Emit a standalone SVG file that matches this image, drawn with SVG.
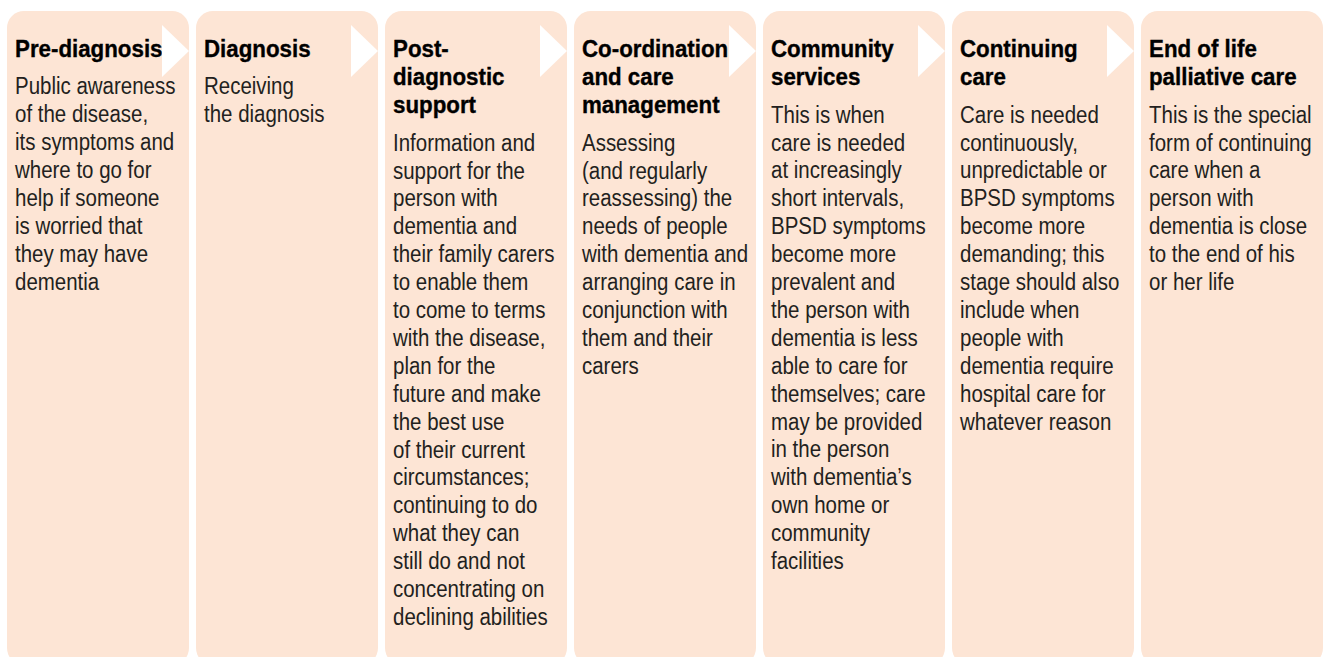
<svg xmlns="http://www.w3.org/2000/svg" width="1328" height="657" viewBox="0 0 1328 657">
<style>
.box{fill:#fde5d5}
.arrow{fill:#ffffff}
.t{font-family:"Liberation Sans",Arial,sans-serif;font-weight:bold;font-size:24px;fill:#000;stroke:#000;stroke-width:0.35}
.b{font-family:"Liberation Sans",Arial,sans-serif;font-size:23px;fill:#231f20}
</style>
<rect width="1328" height="657" fill="#ffffff"/>
<g id="stage-1">
<rect class="box" x="7" y="11" width="182" height="654" rx="17"/>
<text class="t" transform="translate(15,57.3) scale(0.93,1)"><tspan x="0" y="0">Pre-diagnosis</tspan></text>
<text class="b" transform="translate(15,94.3) scale(0.89,1)"><tspan x="0" y="0">Public awareness</tspan><tspan x="0" y="27.9">of the disease,</tspan><tspan x="0" y="55.8">its symptoms and</tspan><tspan x="0" y="83.7">where to go for</tspan><tspan x="0" y="111.6">help if someone</tspan><tspan x="0" y="139.5">is worried that</tspan><tspan x="0" y="167.4">they may have</tspan><tspan x="0" y="195.3">dementia</tspan></text>
</g>
<g id="stage-2">
<rect class="box" x="196" y="11" width="182" height="654" rx="17"/>
<text class="t" transform="translate(204,57.3) scale(0.93,1)"><tspan x="0" y="0">Diagnosis</tspan></text>
<text class="b" transform="translate(204,94.3) scale(0.89,1)"><tspan x="0" y="0">Receiving</tspan><tspan x="0" y="27.9">the diagnosis</tspan></text>
</g>
<g id="stage-3">
<rect class="box" x="385" y="11" width="182" height="654" rx="17"/>
<text class="t" transform="translate(393,57.3) scale(0.93,1)"><tspan x="0" y="0">Post-</tspan><tspan x="0" y="27.9">diagnostic</tspan><tspan x="0" y="55.8">support</tspan></text>
<text class="b" transform="translate(393,150.7) scale(0.89,1)"><tspan x="0" y="0">Information and</tspan><tspan x="0" y="27.9">support for the</tspan><tspan x="0" y="55.8">person with</tspan><tspan x="0" y="83.7">dementia and</tspan><tspan x="0" y="111.6">their family carers</tspan><tspan x="0" y="139.5">to enable them</tspan><tspan x="0" y="167.4">to come to terms</tspan><tspan x="0" y="195.3">with the disease,</tspan><tspan x="0" y="223.2">plan for the</tspan><tspan x="0" y="251.1">future and make</tspan><tspan x="0" y="279">the best use</tspan><tspan x="0" y="306.9">of their current</tspan><tspan x="0" y="334.8">circumstances;</tspan><tspan x="0" y="362.7">continuing to do</tspan><tspan x="0" y="390.6">what they can</tspan><tspan x="0" y="418.5">still do and not</tspan><tspan x="0" y="446.4">concentrating on</tspan><tspan x="0" y="474.3">declining abilities</tspan></text>
</g>
<g id="stage-4">
<rect class="box" x="574" y="11" width="182" height="654" rx="17"/>
<text class="t" transform="translate(582,57.3) scale(0.93,1)"><tspan x="0" y="0">Co-ordination</tspan><tspan x="0" y="27.9">and care</tspan><tspan x="0" y="55.8">management</tspan></text>
<text class="b" transform="translate(582,150.7) scale(0.89,1)"><tspan x="0" y="0">Assessing</tspan><tspan x="0" y="27.9">(and regularly</tspan><tspan x="0" y="55.8">reassessing) the</tspan><tspan x="0" y="83.7">needs of people</tspan><tspan x="0" y="111.6">with dementia and</tspan><tspan x="0" y="139.5">arranging care in</tspan><tspan x="0" y="167.4">conjunction with</tspan><tspan x="0" y="195.3">them and their</tspan><tspan x="0" y="223.2">carers</tspan></text>
</g>
<g id="stage-5">
<rect class="box" x="763" y="11" width="182" height="654" rx="17"/>
<text class="t" transform="translate(771,57.3) scale(0.93,1)"><tspan x="0" y="0">Community</tspan><tspan x="0" y="27.9">services</tspan></text>
<text class="b" transform="translate(771,122.7) scale(0.89,1)"><tspan x="0" y="0">This is when</tspan><tspan x="0" y="27.9">care is needed</tspan><tspan x="0" y="55.8">at increasingly</tspan><tspan x="0" y="83.7">short intervals,</tspan><tspan x="0" y="111.6">BPSD symptoms</tspan><tspan x="0" y="139.5">become more</tspan><tspan x="0" y="167.4">prevalent and</tspan><tspan x="0" y="195.3">the person with</tspan><tspan x="0" y="223.2">dementia is less</tspan><tspan x="0" y="251.1">able to care for</tspan><tspan x="0" y="279">themselves; care</tspan><tspan x="0" y="306.9">may be provided</tspan><tspan x="0" y="334.8">in the person</tspan><tspan x="0" y="362.7">with dementia’s</tspan><tspan x="0" y="390.6">own home or</tspan><tspan x="0" y="418.5">community</tspan><tspan x="0" y="446.4">facilities</tspan></text>
</g>
<g id="stage-6">
<rect class="box" x="952" y="11" width="182" height="654" rx="17"/>
<text class="t" transform="translate(960,57.3) scale(0.93,1)"><tspan x="0" y="0">Continuing</tspan><tspan x="0" y="27.9">care</tspan></text>
<text class="b" transform="translate(960,122.7) scale(0.89,1)"><tspan x="0" y="0">Care is needed</tspan><tspan x="0" y="27.9">continuously,</tspan><tspan x="0" y="55.8">unpredictable or</tspan><tspan x="0" y="83.7">BPSD symptoms</tspan><tspan x="0" y="111.6">become more</tspan><tspan x="0" y="139.5">demanding; this</tspan><tspan x="0" y="167.4">stage should also</tspan><tspan x="0" y="195.3">include when</tspan><tspan x="0" y="223.2">people with</tspan><tspan x="0" y="251.1">dementia require</tspan><tspan x="0" y="279">hospital care for</tspan><tspan x="0" y="306.9">whatever reason</tspan></text>
</g>
<g id="stage-7">
<rect class="box" x="1141" y="11" width="182" height="654" rx="17"/>
<text class="t" transform="translate(1149,57.3) scale(0.93,1)"><tspan x="0" y="0">End of life</tspan><tspan x="0" y="27.9">palliative care</tspan></text>
<text class="b" transform="translate(1149,122.7) scale(0.89,1)"><tspan x="0" y="0">This is the special</tspan><tspan x="0" y="27.9">form of continuing</tspan><tspan x="0" y="55.8">care when a</tspan><tspan x="0" y="83.7">person with</tspan><tspan x="0" y="111.6">dementia is close</tspan><tspan x="0" y="139.5">to the end of his</tspan><tspan x="0" y="167.4">or her life</tspan></text>
</g>
<g id="connectors">
<polygon class="arrow" points="162,25 189,51 162,77"/>
<polygon class="arrow" points="351,25 378,51 351,77"/>
<polygon class="arrow" points="540,25 567,51 540,77"/>
<polygon class="arrow" points="729,25 756,51 729,77"/>
<polygon class="arrow" points="918,25 945,51 918,77"/>
<polygon class="arrow" points="1107,25 1134,51 1107,77"/>
</g>
</svg>
